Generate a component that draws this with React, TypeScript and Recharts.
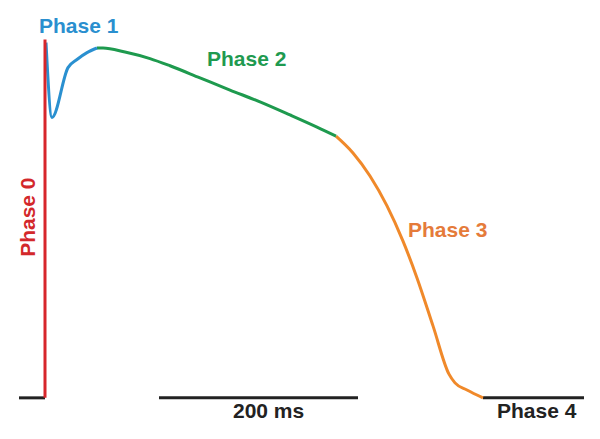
import { ComposedChart, Line, Scatter, XAxis, YAxis } from "recharts"

// time in ms (0 = upstroke), voltage in mV
const restingLeft = [
  { t: -26, v: -90 },
  { t: 0, v: -90 },
]
const phase0 = [
  { t: 0, v: -90 },
  { t: 0, v: 25 },
]
const phase1 = [
  { t: 1, v: 24 },
  { t: 7, v: 0 },
  { t: 23, v: 16 },
  { t: 32, v: 18.6 },
  { t: 42, v: 20.8 },
  { t: 52, v: 22.3 },
]
const phase2 = [
  { t: 52, v: 22.3 },
  { t: 58, v: 22.3 },
  { t: 80, v: 21.0 },
  { t: 105, v: 18.9 },
  { t: 125, v: 16.6 },
  { t: 155, v: 12.7 },
  { t: 185, v: 8.8 },
  { t: 215, v: 5.0 },
  { t: 245, v: 0.8 },
  { t: 272, v: -3.1 },
  { t: 291, v: -6.0 },
]
const phase3 = [
  { t: 291, v: -6.0 },
  { t: 308, v: -11.4 },
  { t: 325, v: -18.8 },
  { t: 342, v: -28.4 },
  { t: 358, v: -39.7 },
  { t: 372, v: -51.5 },
  { t: 388, v: -66.9 },
  { t: 404, v: -82.4 },
  { t: 410, v: -85.2 },
  { t: 422, v: -87.5 },
  { t: 438, v: -90 },
]
const phase4 = [
  { t: 438, v: -90 },
  { t: 539, v: -90 },
]
const scaleBar = [
  { t: 114, v: -90 },
  { t: 313, v: -90 },
]

const labels = [
  { t: -6, v: 27.1, text: "Phase 1", color: "#2a8fcf", rotate: false },
  { t: 162, v: 16.5, text: "Phase 2", color: "#1f9a50", rotate: false },
  { t: 363, v: -38.4, text: "Phase 3", color: "#e57b3a", rotate: false },
  { t: 452, v: -96.5, text: "Phase 4", color: "#222222", rotate: false },
  { t: 188, v: -96.5, text: "200 ms", color: "#222222", rotate: false },
  { t: -10, v: -32.0, text: "Phase 0", color: "#d3282b", rotate: true },
]

const FONT = "'Liberation Sans', Arial, sans-serif"

function LabelShape(props: any) {
  const { cx, cy, payload } = props
  return (
    <text
      x={cx}
      y={cy}
      fill={payload.color}
      fontFamily={FONT}
      fontWeight="bold"
      fontSize={21}
      textAnchor={payload.rotate ? "middle" : "start"}
      transform={payload.rotate ? `rotate(-90, ${cx}, ${cy})` : undefined}
    >
      {payload.text}
    </text>
  )
}

export default function App() {
  return (
    <div style={{ position: "absolute", left: 0, top: 0, background: "#fff" }}>
      <ComposedChart width={600} height={439} margin={{ top: 24, right: 10, bottom: 10, left: 15 }}>
        <XAxis type="number" dataKey="t" domain={[-30, 545]} hide />
        <YAxis type="number" dataKey="v" domain={[-100, 30]} hide />

        <Line data={restingLeft} dataKey="v" type="linear" stroke="#222" strokeWidth={3} dot={false} isAnimationActive={false} />
        <Line data={scaleBar} dataKey="v" type="linear" stroke="#222" strokeWidth={3} dot={false} isAnimationActive={false} />
        <Line data={phase4} dataKey="v" type="linear" stroke="#222" strokeWidth={3} dot={false} isAnimationActive={false} />
        <Line data={phase3} dataKey="v" type="monotone" stroke="#f0892a" strokeWidth={3} dot={false} isAnimationActive={false} />
        <Line data={phase2} dataKey="v" type="monotone" stroke="#1e9a4e" strokeWidth={3} dot={false} isAnimationActive={false} />
        <Line data={phase1} dataKey="v" type="monotone" stroke="#2a90d0" strokeWidth={3} dot={false} isAnimationActive={false} />
        <Line data={phase0} dataKey="v" type="linear" stroke="#d7262b" strokeWidth={3} dot={false} isAnimationActive={false} />

        <Scatter data={labels} dataKey="v" shape={<LabelShape />} isAnimationActive={false} />
      </ComposedChart>
    </div>
  )
}
